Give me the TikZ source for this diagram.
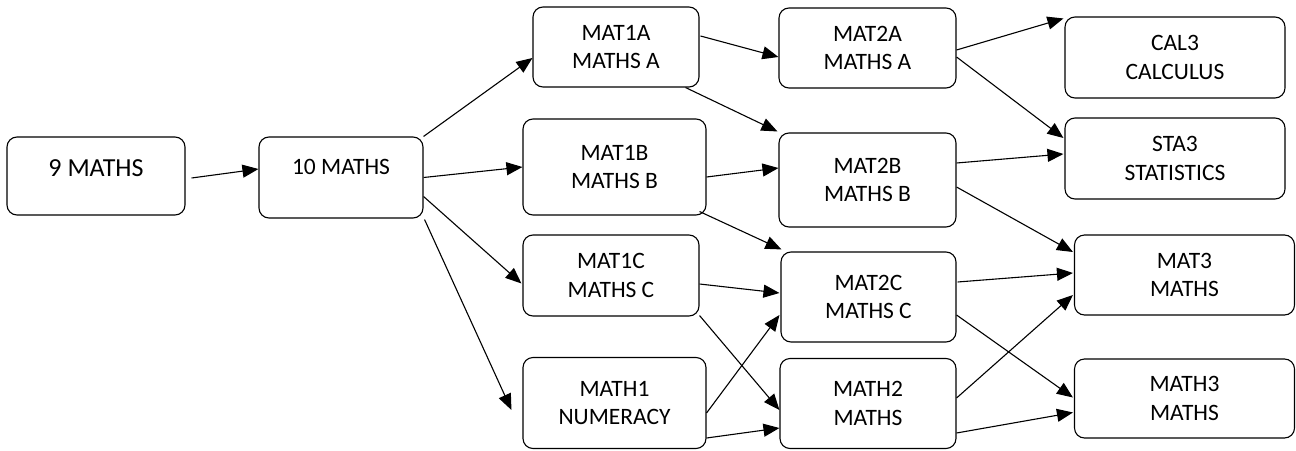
\documentclass[tikz,border=0pt]{standalone}
\usepackage{fontspec}
\setmainfont{Carlito}
\usetikzlibrary{arrows.meta}

\begin{document}
\begin{tikzpicture}[x=1pt,y=-1pt,font=\fontsize{23.5}{28.5}\selectfont,box/.style={draw,line width=1.1pt,rounded corners=10pt,align=center,inner sep=0pt},arr/.style={-{Triangle[length=16pt,width=13pt]},line width=1.1pt}]
\useasboundingbox (0,0) rectangle (1296,450);
\node[box,minimum width=178pt,minimum height=78pt,font=\fontsize{26}{30}\selectfont,text height=8pt,text depth=8pt] (n9) at (96,176) {9 MATHS};
\node[box,minimum width=164pt,minimum height=81pt,text height=4pt,text depth=10pt] (n10) at (341,177.5) {10 MATHS};
\node[box,minimum width=166pt,minimum height=80pt] (mat1a) at (616,47) {MAT1A\\MATHS A};
\node[box,minimum width=183pt,minimum height=96pt] (mat1b) at (614.5,167) {MAT1B\\MATHS B};
\node[box,minimum width=176pt,minimum height=81pt] (mat1c) at (611,275.5) {MAT1C\\MATHS C};
\node[box,minimum width=183pt,minimum height=91pt] (math1) at (614.5,403) {MATH1\\NUMERACY};
\node[box,minimum width=177pt,minimum height=80pt] (mat2a) at (867.5,48) {MAT2A\\MATHS A};
\node[box,minimum width=177pt,minimum height=94pt] (mat2b) at (867.5,180) {MAT2B\\MATHS B};
\node[box,minimum width=175pt,minimum height=90pt] (mat2c) at (868.5,297) {MAT2C\\MATHS C};
\node[box,minimum width=176pt,minimum height=90pt] (math2) at (868,403.5) {MATH2\\MATHS};
\node[box,minimum width=220pt,minimum height=81pt] (cal3) at (1175,57.5) {CAL3\\CALCULUS};
\node[box,minimum width=220pt,minimum height=81pt] (sta3) at (1175,158.5) {STA3\\STATISTICS};
\node[box,minimum width=220pt,minimum height=80pt] (mat3) at (1184.5,275) {MAT3\\MATHS};
\node[box,minimum width=220pt,minimum height=79pt] (math3) at (1184.5,398.5) {MATH3\\MATHS};
% year 9 and 10
\draw[arr] ([shift={(6,2)}]n9.east)--([shift={(0,-8.5)}]n10.west);
\draw[arr] (n10.north east)--([shift={(0,11)}]mat1a.west);
\draw[arr] (n10.east)--(mat1b.west);
\draw[arr] ([shift={(0,19)}]n10.east)--([shift={(-1,8)}]mat1c.west);
\draw[arr] ([shift={(1,1)}]n10.south east)--([shift={(-11,7)}]math1.west);
% year 11
\draw[arr] ([shift={(1,-11)}]mat1a.east)--([shift={(0,9)}]mat2a.west);
\draw[arr] ([shift={(-14,0)}]mat1a.south east)--([shift={(-1,-1)}]mat2b.north west);
\draw[arr] ([shift={(0,10)}]mat1b.east)--([shift={(0,-12)}]mat2b.west);
\draw[arr] ([shift={(-7,-4)}]mat1b.south east)--([shift={(1,-2)}]mat2c.north west);
\draw[arr] ([shift={(0,8.5)}]mat1c.east)--([shift={(-1,-4)}]mat2c.west);
\draw[arr] ([shift={(0,-1)}]mat1c.south east)--([shift={(0,6.5)}]math2.west);
\draw[arr] ([shift={(0,10)}]math1.east)--([shift={(-1,18)}]mat2c.west);
\draw[arr] ([shift={(0,35)}]math1.east)--([shift={(0,24.5)}]math2.west);
% year 12
\draw[arr] ([shift={(0,2)}]mat2a.east)--([shift={(-1,2)}]cal3.north west);
\draw[arr] ([shift={(0,9)}]mat2a.east)--([shift={(-1,-20.5)}]sta3.west);
\draw[arr] ([shift={(0,-17)}]mat2b.east)--([shift={(-1,-4.5)}]sta3.west);
\draw[arr] ([shift={(0,7)}]mat2b.east)--([shift={(-1,-23)}]mat3.west);
\draw[arr] ([shift={(1,-15)}]mat2c.east)--([shift={(-1,-2)}]mat3.west);
\draw[arr] ([shift={(0,18)}]mat2c.east)--([shift={(-1,-1)}]math3.west);
\draw[arr] ([shift={(0,-5.5)}]math2.east)--([shift={(-1,20)}]mat3.west);
\draw[arr] ([shift={(0,29.5)}]math2.east)--([shift={(-1,14)}]math3.west);
\end{tikzpicture}
\end{document}
